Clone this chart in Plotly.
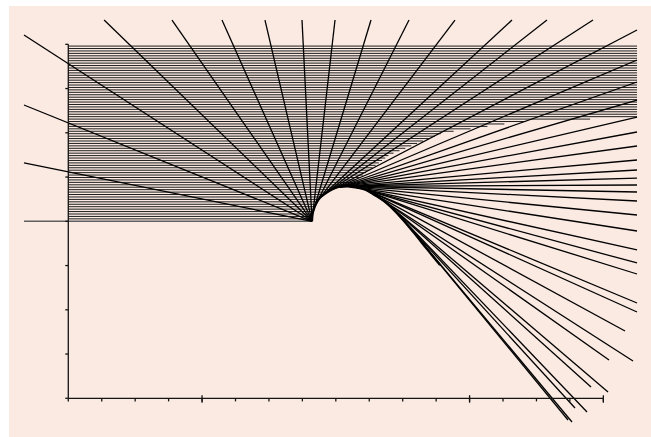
import numpy as np
import plotly.graph_objects as go

# ---- profile of the bump (data units) ----
bump_x = [7.288, 7.318, 7.407, 7.527, 7.706, 7.916, 8.125, 8.364, 8.633,
          8.902, 9.172, 9.471, 9.770, 10.069, 10.368, 10.727, 11.116]
bump_y = [0.00, 0.21, 0.39, 0.53, 0.64, 0.73, 0.78, 0.79, 0.76,
          0.71, 0.59, 0.44, 0.23, -0.02, -0.29, -0.63, -0.99]

# ---- ground line to the left of the bump ----
ground_x = [-1.325, 7.288]
ground_y = [0.0, 0.0]

# ---- rays running back from the foot of the bump ----
back_end_x = [-1.325, -1.325, -1.325, 1.071, 3.101, 4.596, 5.882, 6.989]
back_end_y = [1.318, 2.629, 4.210, 4.549, 4.549, 4.549, 4.549, 4.549]

# ---- rays leaving the bump tangentially: far end points ----
fwd_top_x = [7.976, 9.052, 10.189, 11.564, 13.269, 14.315, 15.691]
fwd_top_y = [4.549] * len(fwd_top_x)
fwd_edge_y = [4.323, 3.645, 3.148, 2.741, 2.357, 2.018, 1.702, 1.386, 1.159,
              0.978, 0.820, 0.662, 0.459, 0.142, -0.219, -0.648, -0.942,
              -1.191, -1.846, -2.050]
fwd_edge_x = [17.007] * len(fwd_edge_y)
fwd_in_x = [16.648, 16.887, 16.170, 16.140, 15.631, 15.512, 15.153, 15.063, 14.944]
fwd_in_y = [-2.479, -3.157, -3.134, -3.857, -3.744, -4.309, -4.219, -4.535, -4.490]

# ---- horizontal lines in the upper band ----
band_levels = np.arange(0.055, 4.0 + 1e-9, 0.055)
band_start = 0.0
# right-hand limit of the horizontal lines above the crest
limit_y = [0.79, 1.5, 2.0, 2.25, 2.35]
limit_x = [8.364, 9.6, 11.2, 13.5, 17.007]

# ---- axes ----
x_ticks = list(range(0, 17))
x_major = [4, 12, 16]
y_ticks = list(range(-4, 5))

BG = "rgb(250,234,226)"

cx = np.array(bump_x)
cy = np.array(bump_y)
# finer sampling of the profile for tangent search
k = np.linspace(0, len(cx) - 1, (len(cx) - 1) * 25 + 1)
fx = np.interp(k, np.arange(len(cx)), cx)
fy = np.interp(k, np.arange(len(cy)), cy)
mx, my = fx.mean(), fy.mean()


def tangent_point(ex, ey):
    ref = np.arctan2(my - ey, mx - ex)
    ang = np.arctan2(fy - ey, fx - ex) - ref
    ang = (ang + np.pi) % (2 * np.pi) - np.pi
    i = int(np.argmin(ang))
    return fx[i], fy[i]


def segs(pairs):
    xs, ys = [], []
    for (x0, y0, x1, y1) in pairs:
        xs += [x0, x1, None]
        ys += [y0, y1, None]
    return xs, ys


fig = go.Figure()

# horizontal band
rise_n = int(np.argmax(cy))
h_pairs = []
for lv in band_levels:
    if lv <= cy[rise_n]:
        xe = float(np.interp(lv, cy[:rise_n + 1], cx[:rise_n + 1]))
    else:
        xe = float(np.interp(lv, limit_y, limit_x))
    h_pairs.append((band_start, lv, xe, lv))
hx, hy = segs(h_pairs)
fig.add_trace(go.Scatter(x=hx, y=hy, mode="lines",
                         line=dict(color="rgb(30,30,30)", width=1),
                         hoverinfo="skip"))

# ground line
fig.add_trace(go.Scatter(x=ground_x, y=ground_y, mode="lines",
                         line=dict(color="rgb(95,95,95)", width=1.4),
                         hoverinfo="skip"))

# rays from the foot
b_pairs = [(cx[0], cy[0], ex, ey) for ex, ey in zip(back_end_x, back_end_y)]
bx, by = segs(b_pairs)
fig.add_trace(go.Scatter(x=bx, y=by, mode="lines",
                         line=dict(color="black", width=1.3),
                         hoverinfo="skip"))

# tangent rays
ends = (list(zip(fwd_top_x, fwd_top_y)) + list(zip(fwd_edge_x, fwd_edge_y))
        + list(zip(fwd_in_x, fwd_in_y)))
f_pairs = []
for ex, ey in ends:
    sx, sy = tangent_point(ex, ey)
    f_pairs.append((sx, sy, ex, ey))
fx2, fy2 = segs(f_pairs)
fig.add_trace(go.Scatter(x=fx2, y=fy2, mode="lines",
                         line=dict(color="black", width=1.3),
                         hoverinfo="skip"))

# the bump outline
fig.add_trace(go.Scatter(x=bump_x, y=bump_y, mode="lines",
                         line=dict(color="black", width=2.2, shape="spline"),
                         hoverinfo="skip"))

# axes drawn as frame lines with ticks
ax_pairs = [(0, -4, 0, 4), (0, -4, 16, -4)]
ax_pairs += [(-0.09, t, 0, t) for t in y_ticks]
ax_pairs += [(t, -4, t, -4.07) for t in x_ticks]
ax_pairs += [(t, -3.93, t, -4.1) for t in x_major]
ax_x, ax_y = segs(ax_pairs)
fig.add_trace(go.Scatter(x=ax_x, y=ax_y, mode="lines",
                         line=dict(color="rgb(20,20,20)", width=1.3),
                         hoverinfo="skip"))

fig.update_layout(
    width=651, height=437,
    margin=dict(l=9, r=0, t=6, b=0),
    paper_bgcolor="white",
    plot_bgcolor=BG,
    showlegend=False,
    xaxis=dict(range=[-1.773, 17.425], visible=False, fixedrange=True),
    yaxis=dict(range=[-4.875, 4.866], visible=False, fixedrange=True),
)

fig.write_html("out.html")
